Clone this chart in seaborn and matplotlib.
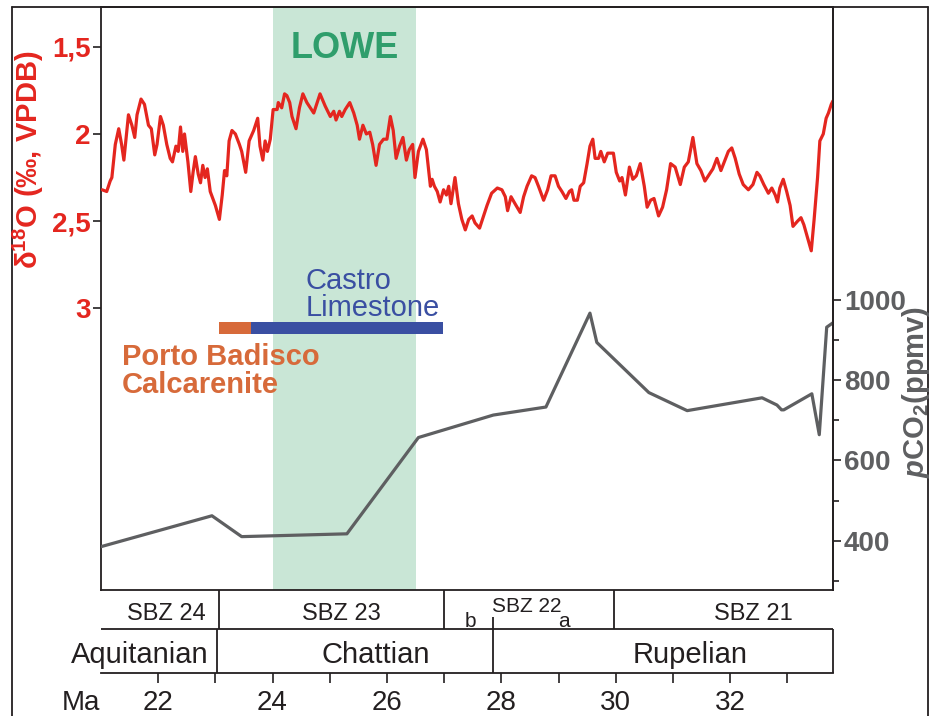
import matplotlib
matplotlib.use("Agg")
import matplotlib.pyplot as plt
import seaborn as sns
import pandas as pd
from matplotlib.lines import Line2D

# ---------------- data ----------------
d18o_age = [21.02, 21.10, 21.16, 21.19, 21.25, 21.31, 21.36, 21.40, 21.45, 21.48,
            21.54, 21.59, 21.63, 21.70, 21.76, 21.83, 21.88, 21.94, 21.98, 22.04,
            22.09, 22.15, 22.21, 22.25, 22.31, 22.35, 22.39, 22.43, 22.46, 22.52,
            22.57, 22.61, 22.65, 22.70, 22.74, 22.78, 22.82, 22.86, 22.91, 23.00,
            23.07, 23.12, 23.16, 23.20, 23.24, 23.29, 23.35, 23.42, 23.46, 23.53,
            23.59,
            23.67, 23.74, 23.78, 23.83, 23.87, 23.91, 23.96, 24.01, 24.08, 24.10,
            24.16, 24.21, 24.25, 24.30, 24.34, 24.41, 24.47, 24.53, 24.60, 24.66,
            24.72, 24.78, 24.83, 24.92, 25.01, 25.07, 25.11, 25.17, 25.21, 25.27,
            25.35, 25.42, 25.48, 25.52, 25.58, 25.64, 25.70, 25.75, 25.81, 25.87,
            25.94, 26.00, 26.06, 26.11, 26.16, 26.22, 26.28, 26.34, 26.39, 26.45,
            26.49, 26.55, 26.63, 26.69, 26.76,
            26.79, 26.83, 26.88, 26.93, 26.99, 27.04, 27.08, 27.12, 27.19, 27.25,
            27.31, 27.37, 27.43, 27.49, 27.54, 27.62, 27.69, 27.75, 27.83, 27.93,
            28.01, 28.07, 28.11, 28.17, 28.24, 28.33, 28.39, 28.45, 28.53, 28.59,
            28.65, 28.74, 28.81, 28.87, 28.94, 29.00, 29.06, 29.13, 29.19, 29.23,
            29.27, 29.33, 29.38, 29.44, 29.50, 29.55,
            29.60, 29.64, 29.70, 29.74, 29.80, 29.86, 29.92, 29.96, 30.01, 30.07,
            30.11, 30.17, 30.24, 30.30, 30.36, 30.43, 30.50, 30.55, 30.61, 30.67,
            30.75, 30.82, 30.89, 30.96, 31.04, 31.13, 31.20, 31.27, 31.35, 31.42,
            31.49, 31.56, 31.62, 31.70, 31.77,
            31.84, 31.90, 31.97, 32.03, 32.09, 32.16, 32.23, 32.32, 32.40, 32.47,
            32.52, 32.59, 32.67, 32.73, 32.79, 32.83, 32.87, 32.93, 32.99, 33.05,
            33.10, 33.18, 33.24, 33.29, 33.35, 33.42, 33.47, 33.53, 33.57, 33.63,
            33.68, 33.72, 33.77, 33.80]
d18o_val = [2.32, 2.33, 2.27, 2.25, 2.06, 1.97, 2.06, 2.15, 1.99, 1.89,
            1.95, 2.02, 1.89, 1.80, 1.83, 1.95, 1.97, 2.12, 2.06, 1.90,
            1.95, 2.06, 2.14, 2.16, 2.07, 2.10, 1.96, 2.10, 2.00, 2.16,
            2.33, 2.22, 2.13, 2.23, 2.28, 2.18, 2.25, 2.20, 2.33, 2.41,
            2.49, 2.35, 2.21, 2.24, 2.04, 1.98, 2.00, 2.06, 2.10, 2.22,
            2.04,
            1.98, 1.91, 2.07, 2.15, 2.04, 2.10, 2.03, 1.86, 1.86, 1.82,
            1.85, 1.77, 1.78, 1.82, 1.90, 1.97, 1.85, 1.77, 1.82, 1.85,
            1.88, 1.82, 1.77, 1.84, 1.90, 1.87, 1.92, 1.87, 1.90, 1.86,
            1.82, 1.88, 1.95, 2.03, 1.95, 2.00, 1.99, 2.06, 2.18, 2.06,
            2.03, 2.03, 1.90, 1.98, 2.14, 2.07, 2.02, 2.15, 2.09, 2.06,
            2.25, 2.10, 2.03, 2.09, 2.30,
            2.26, 2.30, 2.33, 2.39, 2.32, 2.35, 2.30, 2.40, 2.25, 2.40,
            2.49, 2.55, 2.49, 2.47, 2.51, 2.54, 2.47, 2.41, 2.34, 2.31,
            2.32, 2.36, 2.44, 2.36, 2.40, 2.45, 2.36, 2.30, 2.24, 2.25,
            2.30, 2.38, 2.32, 2.24, 2.24, 2.30, 2.33, 2.37, 2.33, 2.32,
            2.38, 2.38, 2.30, 2.28, 2.17, 2.07,
            2.03, 2.14, 2.14, 2.10, 2.16, 2.11, 2.11, 2.11, 2.22, 2.27,
            2.25, 2.35, 2.19, 2.26, 2.24, 2.17, 2.30, 2.42, 2.38, 2.37,
            2.47, 2.42, 2.32, 2.17, 2.19, 2.29, 2.19, 2.16, 2.02, 2.17,
            2.21, 2.27, 2.24, 2.20, 2.14,
            2.21, 2.16, 2.10, 2.08, 2.14, 2.23, 2.29, 2.32, 2.29, 2.22,
            2.24, 2.29, 2.34, 2.31, 2.35, 2.39, 2.31, 2.26, 2.33, 2.41,
            2.53, 2.50, 2.48, 2.52, 2.59, 2.67, 2.49, 2.25, 2.04, 2.00,
            1.91, 1.88, 1.83, 1.81]

co2_age = [21.0, 22.94, 23.46, 25.30, 26.55, 27.86, 28.78, 29.55, 29.67, 30.58,
           31.25, 32.56, 32.82, 32.90, 32.94, 33.43, 33.56, 33.69, 33.80]
co2_ppmv = [385, 462, 410, 417, 657, 713, 733, 967, 894, 769,
            724, 756, 738, 726, 726, 766, 664, 932, 943]

d18o_ticks = [1.5, 2.0, 2.5, 3.0]
d18o_ticklabels = ["1,5", "2", "2,5", "3"]
co2_ticks = [400, 600, 800, 1000]
co2_minor_ticks = [300, 500, 700, 900]
age_ticks = [22, 24, 26, 28, 30, 32]
age_minor_ticks = [23, 25, 27, 29, 31, 33]

lowe_start, lowe_end = 24.0, 26.5

formation_names = ["Porto Badisco Calcarenite", "Castro Limestone"]
formation_start = [23.06, 23.62]
formation_end = [23.62, 26.98]

sbz_labels = ["SBZ 24", "SBZ 23", "SBZ 22", "SBZ 21"]
sbz_bounds = [23.06, 27.0, 29.97]
sbz_sub_labels = ["b", "a"]
stage_labels = ["Aquitanian", "Chattian", "Rupelian"]
stage_bounds = [23.02, 27.86]

# ---------------- style ----------------
sns.set_theme(style="white")
plt.rcParams["font.family"] = ["Liberation Sans", "DejaVu Sans"]
plt.rcParams["mathtext.fontset"] = "custom"
plt.rcParams["mathtext.rm"] = "Liberation Sans:bold"
plt.rcParams["mathtext.bf"] = "Liberation Sans:bold"
plt.rcParams["mathtext.it"] = "Liberation Sans:bold:italic"

RED = "#e4261f"
GRAY = "#5e5f61"
GREEN_BAND = "#c9e6d6"
GREEN_TXT = "#2f9e6c"
BLUE = "#3a4fa2"
ORANGE = "#d76a3a"
INK = "#231f20"

W, H = 933, 716
fig = plt.figure(figsize=(W / 100, H / 100), dpi=100)
fig.patch.set_facecolor("white")


def fx(p):
    return p / W


def fy(p):
    return 1 - p / H


L, R, T, B = 101, 833, 7, 590
XMIN, XMAX = 21.0, 33.8

# ---------------- main axes (d18O) ----------------
ax = fig.add_axes([fx(L), fy(B), (R - L) / W, (B - T) / H])
ax.axvspan(lowe_start, lowe_end, color=GREEN_BAND, lw=0, zorder=0)
df_o = pd.DataFrame({"age": d18o_age, "d18O": d18o_val})
sns.lineplot(data=df_o, x="age", y="d18O", ax=ax, color=RED, lw=2.3,
             sort=False, estimator=None, zorder=3)
ax.set_xlim(XMIN, XMAX)
ax.set_ylim(4.615, 1.272)
ax.set_xlabel("")
ax.set_ylabel("")
ax.set_yticks(d18o_ticks)
ax.set_yticklabels(d18o_ticklabels)
ax.tick_params(axis="y", left=True, direction="out", length=5.5, width=1.2,
               color=INK, pad=2, labelsize=20, labelcolor=RED)
for lbl in ax.get_yticklabels():
    lbl.set_fontweight("bold")
ax.tick_params(axis="x", bottom=False, labelbottom=False)
for s in ["left", "top", "bottom", "right"]:
    ax.spines[s].set_color(INK)
    ax.spines[s].set_linewidth(1.3)

colors = [ORANGE, BLUE]
for s, e, c in zip(formation_start, formation_end, colors):
    ax.barh(3.112, e - s, left=s, height=0.07, color=c, lw=0, zorder=4)

ax.text(25.27, 1.565, "LOWE", ha="center", va="baseline", color=GREEN_TXT,
        fontsize=26, fontweight="bold")
ax.text(24.57, 2.889, "Castro", ha="left", va="baseline", color=BLUE, fontsize=21)
ax.text(24.57, 3.044, "Limestone", ha="left", va="baseline", color=BLUE, fontsize=21)
ax.text(21.37, 3.325, "Porto Badisco", ha="left", va="baseline", color=ORANGE,
        fontsize=21, fontweight="bold")
ax.text(21.37, 3.486, "Calcarenite", ha="left", va="baseline", color=ORANGE,
        fontsize=21, fontweight="bold")

# ---------------- twin axes (pCO2) ----------------
ax2 = ax.twinx()
df_c = pd.DataFrame({"age": co2_age, "co2": co2_ppmv})
sns.lineplot(data=df_c, x="age", y="co2", ax=ax2, color=GRAY, lw=2.3,
             sort=False, estimator=None)
ax2.set_xlim(XMIN, XMAX)
ax2.set_ylim(277, 1730)
ax2.set_xlabel("")
ax2.set_ylabel("")
ax2.set_yticks(co2_ticks)
ax2.set_yticklabels([str(v) for v in co2_ticks])
ax2.set_yticks(co2_minor_ticks, minor=True)
ax2.tick_params(axis="y", which="major", right=True, left=False, direction="out",
                length=6, width=1.2, color=INK, pad=2, labelsize=20, labelcolor=GRAY)
ax2.tick_params(axis="y", which="minor", right=True, left=False, direction="out",
                length=4, width=1.2, color=INK)
for lbl in ax2.get_yticklabels():
    lbl.set_fontweight("bold")
for s in ["left", "top", "bottom"]:
    ax2.spines[s].set_visible(False)
ax2.spines["right"].set_color(INK)
ax2.spines["right"].set_linewidth(1.3)

# axis titles
fig.text(fx(28), fy(160), "δ$^{\\mathbf{18}}$O (‰, VPDB)", rotation=90,
         ha="center", va="center", color=RED, fontsize=21, fontweight="bold")
fig.text(fx(916), fy(392), "$\\mathit{p}$CO$_{\\mathbf{2}}$(ppmv)", rotation=90,
         ha="center", va="center", color=GRAY, fontsize=21, fontweight="bold")

# ---------------- stratigraphic table ----------------
ax_t = fig.add_axes([fx(L), fy(673), (R - L) / W, (673 - 590) / H])
ax_t.set_facecolor("none")
ax_t.set_xlim(XMIN, XMAX)
ax_t.set_ylim(0, 83)
for s in ["left", "right", "top"]:
    ax_t.spines[s].set_visible(False)
ax_t.spines["bottom"].set_color(INK)
ax_t.spines["bottom"].set_linewidth(1.3)
ax_t.set_yticks([])
ax_t.set_xticks(age_ticks)
ax_t.set_xticklabels([str(a) for a in age_ticks])
ax_t.set_xticks(age_minor_ticks, minor=True)
ax_t.tick_params(axis="x", which="both", bottom=True, direction="out", length=7,
                 width=1.2, color=INK)
ax_t.tick_params(axis="x", which="major", labelsize=20, pad=5, labelcolor=INK)

lk = dict(color=INK, lw=1.3, clip_on=False)
ax_t.hlines(44, XMIN, XMAX, **lk)
ax_t.vlines(sbz_bounds, 44, 83, **lk)
ax_t.vlines(stage_bounds, 0, 44, **lk)
ax_t.vlines(stage_bounds[1], 44, 56, **lk)
ax_t.vlines(XMAX, 0, 44, **lk)

sbz_x = [22.15, 25.2, 28.45, 32.4]
sbz_y = [53, 53, 61.3, 53]
sbz_fs = [17, 17, 15, 17]
for lab, x, y, f in zip(sbz_labels, sbz_x, sbz_y, sbz_fs):
    ax_t.text(x, y, lab, ha="center", va="baseline", fontsize=f, color=INK)
for lab, x in zip(sbz_sub_labels, [27.46, 29.10]):
    ax_t.text(x, 46.3, lab, ha="center", va="baseline", fontsize=15, color=INK)
for lab, x in zip(stage_labels, [21.67, 25.80, 31.31]):
    ax_t.text(x, 9.7, lab, ha="center", va="baseline", fontsize=21, color=INK)

fig.text(fx(62), fy(710), "Ma", ha="left", va="baseline", fontsize=20, color=INK)

# ---------------- outer frame ----------------
fk = dict(transform=fig.transFigure, color=INK, lw=1.3)
fig.add_artist(Line2D([fx(12), fx(12)], [fy(7), 0], **fk))
fig.add_artist(Line2D([fx(12), fx(928)], [fy(7), fy(7)], **fk))
fig.add_artist(Line2D([fx(928), fx(928)], [fy(7), 0], **fk))

fig.savefig("out.png", dpi=100)
